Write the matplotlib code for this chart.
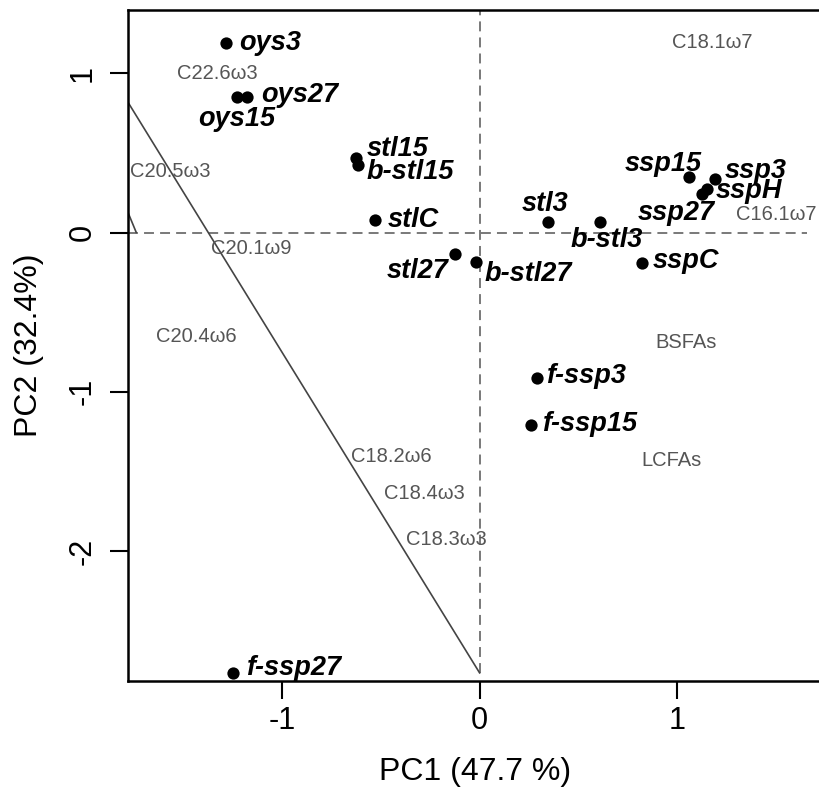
import matplotlib
matplotlib.use('Agg')
import matplotlib.pyplot as plt
import numpy as np

plt.rcParams['font.family'] = ['Liberation Sans', 'DejaVu Sans']

# sample scores (PC1, PC2)
samples = ['oys3', 'oys15', 'oys27', 'stl15', 'b-stl15', 'stlC', 'stl27', 'b-stl27',
           'stl3', 'b-stl3', 'ssp15', 'ssp3', 'sspH', 'ssp27', 'sspC',
           'f-ssp3', 'f-ssp15', 'f-ssp27']
pc1 = [-1.283, -1.232, -1.181, -0.624, -0.616, -0.532, -0.123, -0.017,
       0.346, 0.608, 1.063, 1.195, 1.154, 1.129, 0.822,
       0.290, 0.262, -1.249]
pc2 = [1.187, 0.852, 0.852, 0.466, 0.421, 0.078, -0.135, -0.183,
       0.064, 0.064, 0.349, 0.335, 0.273, 0.242, -0.193,
       -0.915, -1.208, -2.767]

# fatty acid variables (label positions)
fa_names = ['C18.1ω7', 'C22.6ω3', 'C20.5ω3', 'C20.1ω9', 'C16.1ω7', 'C20.4ω6',
            'C18.2ω6', 'C18.4ω3', 'C18.3ω3', 'BSFAs', 'LCFAs']
fa_x = [1.181, -1.330, -1.570, -1.156, 1.502, -1.434, -0.447, -0.278, -0.169, 1.047, 0.971]
fa_y = [1.194, 0.999, 0.382, -0.099, 0.114, -0.650, -1.407, -1.637, -1.926, -0.689, -1.428]

# two straight lines (x pairs, y pairs)
line_x = [[0.0, -1.9], [-1.74, -1.9]]
line_y = [[-2.764, 1.055], [0.0, 0.48]]

# label offsets in pixels: (dx, dy, ha)
offs = {
    'oys3': (13, 0, 'left'), 'oys15': (0, -22, 'center'), 'oys27': (15, 2, 'left'),
    'stl15': (10, 9, 'left'), 'b-stl15': (8, -7, 'left'), 'stlC': (13, 0, 'left'),
    'stl27': (-7, -17, 'right'), 'b-stl27': (8, -12, 'left'),
    'stl3': (-3, 18, 'center'), 'b-stl3': (7, -18, 'center'),
    'ssp15': (12, 13, 'right'), 'ssp3': (9, 8, 'left'), 'sspH': (8, -2, 'left'),
    'ssp27': (12, -19, 'right'), 'sspC': (11, 2, 'left'),
    'f-ssp3': (9, 2, 'left'), 'f-ssp15': (11, 1, 'left'), 'f-ssp27': (13, 5, 'left'),
}

fig = plt.figure(figsize=(8.19, 7.98), dpi=100)
ax = fig.add_axes([128/819, 1-681/798, 1.005-128/819, (681-10)/798])
ax.set_xlim(-1.782, 1.741)
ax.set_ylim(-2.815, 1.397)

ax.plot([-1.782, 1.66], [0, 0], ls=(0, (6.5, 4)), color='#555555', lw=1.1, zorder=1)
ax.plot([0, 0], [-2.764, 1.397], ls=(0, (6.5, 4)), color='#555555', lw=1.1, zorder=1)
for lx, ly in zip(line_x, line_y):
    ax.plot(lx, ly, color='#444444', lw=1.2, zorder=1)

for n, x, y in zip(fa_names, fa_x, fa_y):
    ax.text(x, y, n, color='#555555', fontsize=14.5, ha='center', va='center')

ax.scatter(pc1, pc2, s=78, color='black', zorder=3, linewidths=0)
for n, x, y in zip(samples, pc1, pc2):
    dx, dy, ha = offs[n]
    ax.annotate(n, (x, y), xytext=(dx, dy), textcoords='offset pixels',
                ha=ha, va='center', fontsize=19.5, fontweight='bold',
                fontstyle='italic', color='black', zorder=4)

ax.set_xticks([-1, 0, 1])
ax.set_xticklabels(['-1', '0', '1'])
ax.set_yticks([-2, -1, 0, 1])
ax.set_yticklabels(['-2', '-1', '0', '1'], rotation=90, va='center')
ax.tick_params(axis='both', length=13, width=1.5, labelsize=22, direction='out')
ax.tick_params(axis='x', pad=5)
ax.tick_params(axis='y', pad=9)
for s in ['left', 'bottom', 'top']:
    ax.spines[s].set_linewidth(1.8)
ax.spines['right'].set_visible(False)

ax.set_xlabel('PC1 (47.7 %)', fontsize=23, labelpad=15)
ax.set_ylabel('PC2 (32.4%)', fontsize=23, labelpad=17)

fig.savefig('out.png', dpi=100)
